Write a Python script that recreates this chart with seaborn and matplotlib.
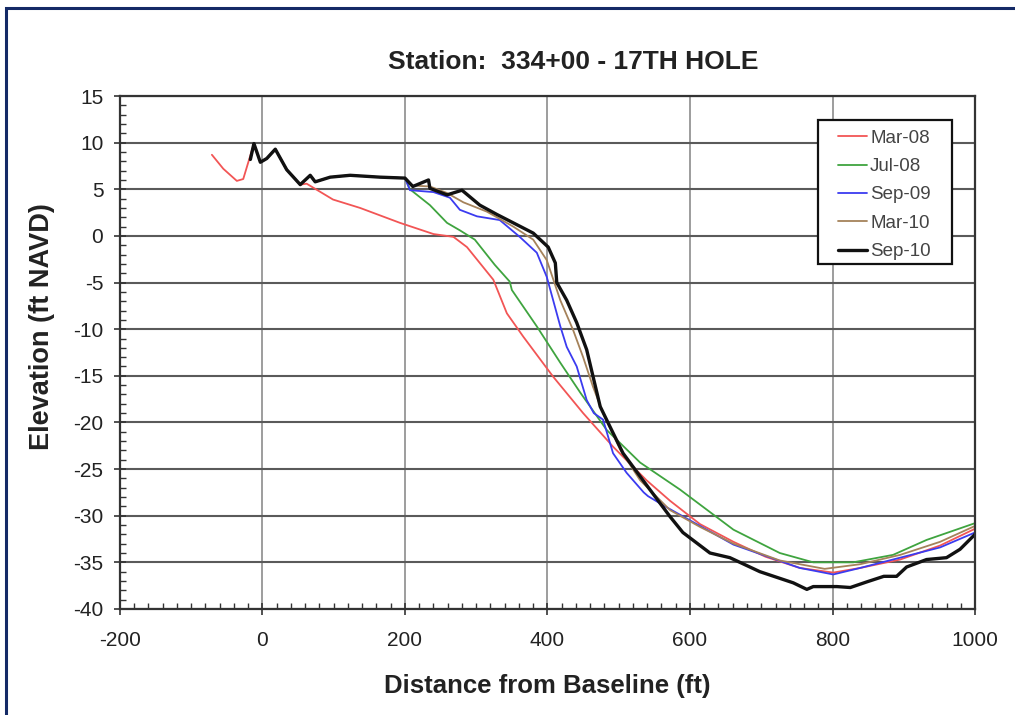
import matplotlib
matplotlib.use("Agg")
import matplotlib.pyplot as plt
from matplotlib.patches import Rectangle
from matplotlib.ticker import MultipleLocator
import seaborn as sns
import pandas as pd

# --- survey data: distance from baseline (ft) vs elevation (ft NAVD) ---
# shared dune crest profile (surveys overlap here)
crest_x = [-17, -12, -3, 6, 18, 34, 53, 67, 74, 95, 123, 165, 200]
crest_y = [8.2, 9.9, 7.9, 8.3, 9.3, 7.1, 5.5, 6.5, 5.8, 6.3, 6.5, 6.3, 6.2]

mar08_x = [-71, -55, -36, -27, -12, -3, 6, 18, 34, 53, 62, 99, 137, 193, 240, 268,
           287, 324, 343, 366, 408, 450, 492, 539, 572, 614, 661, 706, 754, 801,
           839, 895, 951, 1000]
mar08_y = [8.7, 7.2, 5.9, 6.1, 9.9, 7.9, 8.3, 9.3, 7.1, 5.5, 5.6, 3.9, 3.0, 1.4, 0.2, -0.1,
           -1.2, -4.7, -8.3, -10.8, -15.1, -19.0, -22.6, -26.2, -28.4, -30.9, -32.8, -34.4, -35.6, -36.1,
           -35.6, -34.7, -33.2, -31.4]

jul08_x = [207, 235, 259, 277, 298, 326, 347, 350, 385, 418, 446, 483, 530, 586,
           661, 726, 773, 829, 885, 932, 1000]
jul08_y = [5.0, 3.3, 1.4, 0.6, -0.4, -3.1, -4.9, -5.8, -9.7, -13.6, -16.8, -20.8, -24.3, -27.2,
           -31.5, -34.0, -35.0, -35.0, -34.2, -32.6, -30.8]

sep09_x = [207, 240, 263, 277, 301, 333, 361, 385, 399, 418, 427, 441, 455, 465,
           478, 492, 511, 535, 541, 565, 600, 661, 754, 801, 839, 895, 951, 1000]
sep09_y = [4.9, 4.7, 4.1, 2.8, 2.1, 1.7, -0.1, -1.8, -4.4, -9.7, -11.9, -14.0, -17.6, -19.0,
           -19.7, -23.3, -25.4, -27.5, -27.9, -29.0, -30.5, -33.1, -35.6, -36.3, -35.6, -34.5, -33.4, -31.8]

mar10_x = [211, 235, 259, 282, 315, 352, 380, 399, 418, 436, 450, 464, 478, 502,
           530, 572, 614, 661, 726, 789, 839, 895, 951, 1000]
mar10_y = [5.4, 5.3, 4.6, 3.6, 2.6, 1.0, -0.4, -2.6, -6.9, -10.1, -13.0, -16.2, -19.0, -22.9,
           -26.2, -29.4, -31.2, -33.0, -34.8, -35.7, -35.2, -34.2, -32.8, -31.1]

sep10_x = [211, 233, 235, 259, 280, 305, 329, 352, 380, 401, 411, 413, 427, 441,
           455, 464, 474, 488, 506, 534, 572, 590, 628, 656, 698, 745, 764, 773,
           806, 825, 848, 872, 890, 904, 932, 960, 979, 1000]
sep10_y = [5.3, 6.0, 5.1, 4.4, 4.9, 3.3, 2.3, 1.4, 0.3, -1.2, -2.9, -5.0, -6.9, -9.3,
           -12.2, -15.1, -18.3, -20.5, -23.3, -26.2, -30.1, -31.8, -34.0, -34.5, -36.0, -37.2, -37.9, -37.6,
           -37.6, -37.7, -37.1, -36.5, -36.5, -35.5, -34.7, -34.5, -33.6, -32.0]

surveys = ["Mar-08", "Jul-08", "Sep-09", "Mar-10", "Sep-10"]
colors = ["#f25555", "#3fa43f", "#3b3bf0", "#a5825a", "#111111"]
widths = [1.3, 1.3, 1.3, 1.3, 2.4]

profiles = {
    "Mar-08": (mar08_x, mar08_y),
    "Jul-08": (crest_x + jul08_x, crest_y + jul08_y),
    "Sep-09": (crest_x + sep09_x, crest_y + sep09_y),
    "Mar-10": (crest_x + mar10_x, crest_y + mar10_y),
    "Sep-10": (crest_x + sep10_x, crest_y + sep10_y),
}

sns.set_theme(style="white")
plt.rcParams["font.family"] = ["Liberation Sans", "DejaVu Sans"]
plt.rcParams["axes.unicode_minus"] = False

fig = plt.figure(figsize=(10.15, 7.15), dpi=100)
ax = fig.add_axes([0.1182, 0.1483, 0.8424, 0.7174])

# draw the later surveys on top of the earlier ones
for name, col, lw in zip(surveys, colors, widths):
    xs, ys = profiles[name]
    df = pd.DataFrame({"dist": xs, "elev": ys})
    sns.lineplot(data=df, x="dist", y="elev", sort=False, estimator=None,
                 color=col, linewidth=lw, label=name, ax=ax)

ax.set_xlim(-200, 1000)
ax.set_ylim(-40, 15)
ax.xaxis.set_major_locator(MultipleLocator(200))
ax.xaxis.set_minor_locator(MultipleLocator(20))
ax.yaxis.set_major_locator(MultipleLocator(5))
ax.yaxis.set_minor_locator(MultipleLocator(1))

ax.grid(False)
for v in range(-200, 1001, 200):
    ax.axvline(v, color="#8c8c8c", lw=1.2, zorder=0)
for h in range(-40, 16, 5):
    ax.axhline(h, color="#5a5a5a", lw=1.5, zorder=0)

ax.tick_params(axis="both", which="major", direction="inout", length=8, width=1.2,
               color="#333333", labelsize=15, labelcolor="#222222")
ax.tick_params(axis="x", which="major", pad=12)
ax.tick_params(axis="y", which="major", pad=8)
ax.tick_params(axis="both", which="minor", direction="in", length=4, width=1.0,
               color="#333333")
ax.tick_params(axis="x", which="both", bottom=True, top=False)
ax.tick_params(axis="y", which="both", left=True, right=False)

for s in ax.spines.values():
    s.set_color("#333333")
    s.set_linewidth(1.6)

fig.text(573 / 1015, 1 - 62 / 715, "Station:  334+00 - 17TH HOLE", fontsize=19,
         fontweight="bold", color="#222222", ha="center", va="center")
ax.set_xlabel("Distance from Baseline (ft)", fontsize=18.5, fontweight="bold",
              color="#222222", labelpad=17)
ax.set_ylabel("Elevation (ft NAVD)", fontsize=19.5, fontweight="bold",
              color="#222222")
ax.yaxis.set_label_coords(-0.076, 0.55)

# legend: white box with a black frame, entries listed inside it
ax.add_patch(Rectangle((0.8164, 0.6725), 0.1567, 0.2807, transform=ax.transAxes,
                       facecolor="white", edgecolor="#111111", linewidth=1.6,
                       zorder=4))
leg = ax.legend(loc="upper left", bbox_to_anchor=(0.8398, 0.9345), fontsize=13.5,
                frameon=False, handlelength=1.55, handletextpad=0.16,
                labelspacing=0.6, borderpad=0, borderaxespad=0)
leg.set_zorder(5)
for t in leg.get_texts():
    t.set_color("#444444")

# page frame around the figure
fig.patches.append(Rectangle((6 / 1015, -0.2), 1.5, 1.2 - 8 / 715,
                             transform=fig.transFigure, fill=False,
                             edgecolor="#142a66", linewidth=2.2))

fig.savefig("out.png", dpi=100)
